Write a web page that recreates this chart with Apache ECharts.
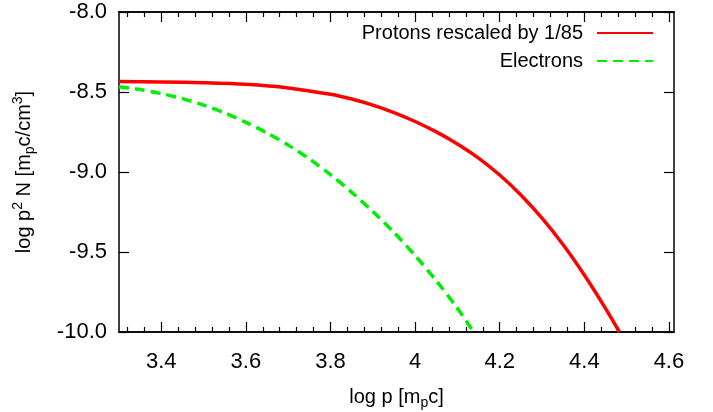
<!DOCTYPE html>
<html>
<head>
<meta charset="utf-8">
<style>html,body{margin:0;padding:0;background:#fff;}#c{width:713px;height:412px;}</style>
<script src="https://cdn.jsdelivr.net/npm/echarts@6/dist/echarts.min.js"></script>
</head>
<body>
<div id="c"></div>
<script>
var protonX = [3.30, 3.40, 3.50, 3.60, 3.70, 3.80, 3.85, 3.90, 3.95, 4.00, 4.05, 4.10, 4.15, 4.20, 4.25, 4.30, 4.35, 4.40, 4.45, 4.483];
var protonY = [-8.435, -8.437, -8.442, -8.452, -8.4745, -8.5145, -8.544, -8.582, -8.629, -8.6845, -8.7495, -8.8245, -8.913, -9.019, -9.144, -9.289, -9.455, -9.644, -9.852, -10.0];
var electronX = [3.30, 3.35, 3.40, 3.45, 3.50, 3.55, 3.60, 3.65, 3.70, 3.75, 3.80, 3.85, 3.90, 3.95, 4.00, 4.05, 4.10, 4.138];
var electronY = [-8.467, -8.485, -8.5095, -8.5414, -8.582, -8.6314, -8.6895, -8.7564, -8.832, -8.918, -9.017, -9.127, -9.247, -9.378, -9.522, -9.6795, -9.852, -10.0];
var xMajorTicks = [3.4, 3.6, 3.8, 4.0, 4.2, 4.4, 4.6];
var xMinorTicks = [3.32, 3.36, 3.44, 3.48, 3.52, 3.56, 3.64, 3.68, 3.72, 3.76, 3.84, 3.88, 3.92, 3.96, 4.04, 4.08, 4.12, 4.16, 4.24, 4.28, 4.32, 4.36, 4.44, 4.48, 4.52, 4.56];
var yTicks = [-10.0, -9.5, -9.0, -8.5, -8.0];
var seriesNames = ['Protons rescaled by 1/85', 'Electrons'];

function zip(a, b) { return a.map(function (v, i) { return [v, b[i]]; }); }

var FONT = 'Liberation Sans';
var XMIN = 3.3, XMAX = 4.612;
var axisLineStyle = { color: '#000', width: 1.5 };

function xAxisDef(pos, ticks, len, showLabel) {
  return {
    type: 'value', position: pos, min: XMIN, max: XMAX,
    splitLine: { show: false },
    axisLine: { show: true, onZero: false, lineStyle: axisLineStyle },
    axisTick: { show: true, inside: true, length: len, customValues: ticks, lineStyle: { color: '#000', width: 1.2 } },
    axisLabel: showLabel ? {
      show: true, customValues: ticks, margin: 19, fontFamily: FONT, fontSize: 22, color: '#000',
      formatter: function (v) { return String(+(+v).toFixed(1)); }
    } : { show: false }
  };
}

var xAxes = [
  xAxisDef('bottom', xMajorTicks, 10, true),
  xAxisDef('bottom', xMinorTicks, 5, false),
  xAxisDef('top', xMajorTicks, 10, false),
  xAxisDef('top', xMinorTicks, 5, false)
];
xAxes[0].name = 'log p [m{sub|p}c]';
xAxes[0].nameLocation = 'middle';
xAxes[0].nameGap = 52;
xAxes[0].nameTextStyle = {
  fontFamily: FONT, fontSize: 20, color: '#000', lineHeight: 26,
  rich: { sub: { fontFamily: FONT, fontSize: 14, verticalAlign: 'bottom', lineHeight: 14, color: '#000' } }
};

var yAxes = [
  {
    type: 'value', position: 'left', min: yTicks[0], max: yTicks[yTicks.length - 1], interval: 0.5,
    splitLine: { show: false },
    axisLine: { show: true, onZero: false, lineStyle: axisLineStyle },
    axisTick: { show: true, inside: true, length: 10, lineStyle: { color: '#000', width: 1.2 } },
    axisLabel: { margin: 12, fontFamily: FONT, fontSize: 22, color: '#000', formatter: function (v) { return v.toFixed(1); } },
    name: 'log p{sup|2} N [m{sub|p}c/cm{sup|3}]',
    nameLocation: 'middle', nameRotate: 90, nameGap: 82,
    nameTextStyle: {
      fontFamily: FONT, fontSize: 20, color: '#000', lineHeight: 26,
      rich: {
        sup: { fontFamily: FONT, fontSize: 14, verticalAlign: 'top', lineHeight: 14, color: '#000' },
        sub: { fontFamily: FONT, fontSize: 14, verticalAlign: 'bottom', lineHeight: 14, color: '#000' }
      }
    }
  },
  {
    type: 'value', position: 'right', min: yTicks[0], max: yTicks[yTicks.length - 1], interval: 0.5,
    splitLine: { show: false },
    axisLine: { show: true, onZero: false, lineStyle: axisLineStyle },
    axisTick: { show: true, inside: true, length: 10, lineStyle: { color: '#000', width: 1.2 } },
    axisLabel: { show: false }
  }
];

var chart = echarts.init(document.getElementById('c'), null, { renderer: 'canvas' });
chart.setOption({
  animation: false,
  backgroundColor: '#fff',
  grid: { left: 119, right: 39, top: 12, bottom: 80, containLabel: false, outerBoundsMode: 'none' },
  legend: {
    orient: 'vertical', right: 54, top: 18, align: 'right',
    itemWidth: 56, itemHeight: 14, itemGap: 8,
    itemStyle: { opacity: 0 },
    textStyle: { fontFamily: FONT, fontSize: 20, color: '#000', padding: [0, 9, 0, 0] },
    data: seriesNames
  },
  xAxis: xAxes,
  yAxis: yAxes,
  series: [
    {
      name: seriesNames[0], type: 'line', data: zip(protonX, protonY),
      smooth: 0.3, showSymbol: false, symbol: 'none',
      lineStyle: { color: '#ff0000', width: 3.5 }, itemStyle: { color: '#ff0000' }
    },
    {
      name: seriesNames[1], type: 'line', data: zip(electronX, electronY),
      smooth: 0.3, showSymbol: false, symbol: 'none',
      lineStyle: { color: '#00ee00', width: 3.5, type: [10, 6] }, itemStyle: { color: '#00ee00' }
    }
  ]
});
</script>
</body>
</html>
